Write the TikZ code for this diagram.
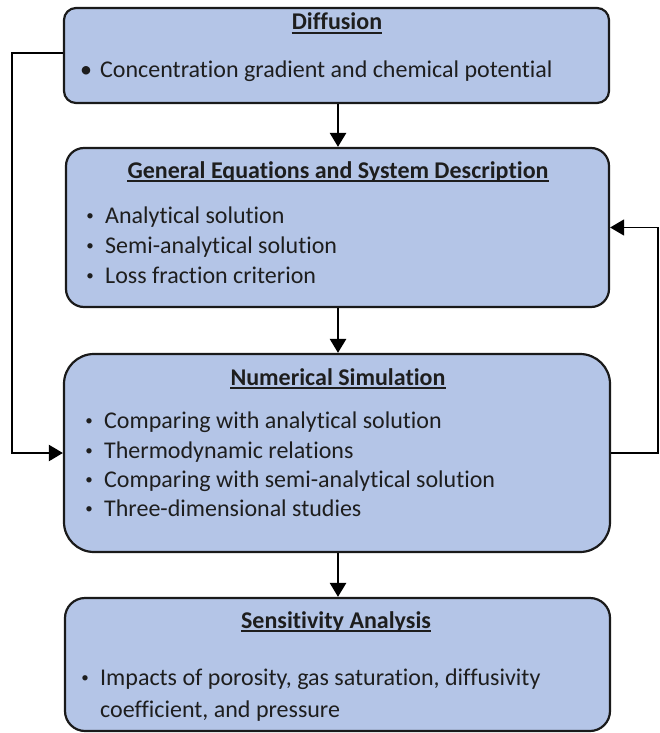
\documentclass[tikz,border=0pt]{standalone}
\usepackage{fontspec}
\setmainfont{Carlito}[Ligatures=NoCommon]
\usetikzlibrary{arrows.meta}
\definecolor{boxfill}{HTML}{B4C5E7}
\definecolor{boxline}{HTML}{1A1A1A}
\definecolor{txt}{HTML}{1E1E1E}
\newcommand{\bul}{\makebox[30pt][c]{\fontsize{15}{18}\selectfont\raisebox{2.5pt}{•}}}
\tikzset{
  box/.style={draw=boxline, line width=2.2pt, fill=boxfill, inner sep=0pt},
  ttl/.style={anchor=base, inner sep=0pt, font=\fontsize{24}{28}\selectfont\bfseries, text=txt},
  item/.style={anchor=base west, inner sep=0pt, font=\fontsize{24}{28}\selectfont, text=txt},
  ul/.style={line width=1.4pt, draw=txt},
  flow/.style={line width=2.6pt, -{Triangle[width=16pt,length=14pt]}},
  fbl/.style={line width=2.2pt, -{Triangle[width=16pt,length=14pt]}},
  fbr/.style={line width=1.5pt, -{Triangle[width=16pt,length=14pt]}}
}
\begin{document}
\begin{tikzpicture}[x=1pt,y=-1pt]
\useasboundingbox (0,0) rectangle (659,733);
% boxes
\node[box, rounded corners=12pt, minimum width=545pt, minimum height=95pt] (diff) at (336.5,55.5) {};
\node[box, rounded corners=18pt, minimum width=543pt, minimum height=159pt] (gen) at (337.5,227.5) {};
\node[box, rounded corners=30pt, minimum width=546pt, minimum height=198pt] (num) at (337,453) {};
\node[box, rounded corners=20pt, minimum width=545pt, minimum height=133pt] (sens) at (337.5,664.5) {};
% titles
\node[ttl] (t1) at (337,30) {Diffusion};
\node[ttl] (t2) at (338,178) {General Equations and System Description};
\node[ttl] (t3) at (338,385) {Numerical Simulation};
\node[ttl] (t4) at (336,628) {Sensitivity Analysis};
\foreach \t in {t1,t2,t3,t4}
  \draw[ul] ([yshift=-3pt]\t.base west) -- ([yshift=-3pt]\t.base east);
% items
\node[item] (d1) at (72,78) {\makebox[28pt][c]{•}Concentration gradient and chemical potential};
\node[item] (g1) at (75,223) {\bul Analytical solution};
\node[item] (g2) at (75,253) {\bul Semi-analytical solution};
\node[item] (g3) at (75,283) {\bul Loss fraction criterion};
\node[item] (n1) at (74,428) {\bul Comparing with analytical solution};
\node[item] (n2) at (74,458) {\bul Thermodynamic relations};
\node[item] (n3) at (74,487) {\bul Comparing with semi-analytical solution};
\node[item] (n4) at (74,516) {\bul Three-dimensional studies};
\node[item] (s1) at (70,685) {\bul Impacts of porosity, gas saturation, diffusivity};
\node[item] (s2) at (100,717) {coefficient, and pressure};
% connectors
\draw[flow] (diff.south -| 338,0) -- (gen.north -| 338,0);
\draw[flow] (gen.south -| 338,0) -- (num.north -| 338,0);
\draw[flow] (num.south -| 338,0) -- (sens.north -| 338,0);
\coordinate (lt) at (12,53);
\coordinate (rt) at (658,227.5);
\draw[fbl] ([yshift=2.5pt]diff.west) -- (lt) |- (num.west);
\draw[fbr] (num.east) -| (rt) -- (gen.east);
\end{tikzpicture}
\end{document}
